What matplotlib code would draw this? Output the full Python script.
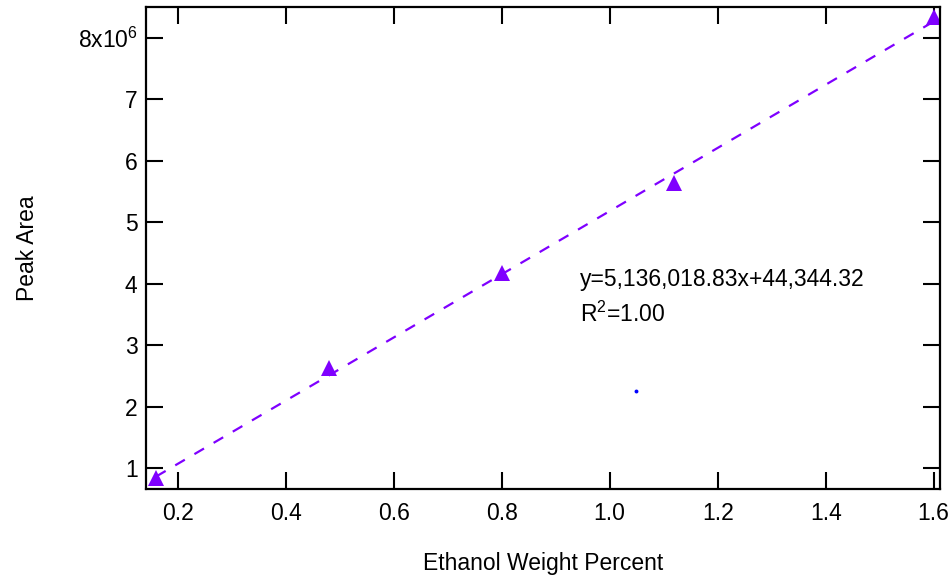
import numpy as np
import matplotlib
matplotlib.use('Agg')
import matplotlib.pyplot as plt
import matplotlib.ticker as ticker

plt.rcParams['font.family'] = ['Liberation Sans', 'DejaVu Sans']
plt.rcParams['mathtext.fontset'] = 'custom'
plt.rcParams['mathtext.rm'] = 'Liberation Sans'

# measured points
ethanol_wt = [0.16, 0.48, 0.80, 1.12, 1.60]
peak_area = [0.85e6, 2.63e6, 4.18e6, 5.64e6, 8.34e6]

# fit shown on chart
slope = 5136018.83
intercept = 44344.32
fit_text = 'y=5,136,018.83x+44,344.32'
r2_text = 'R$^{\\mathregular{2}}$=1.00'

# stray point
stray_x = [1.0487]
stray_y = [2.255e6]

x_ticks = [0.2, 0.4, 0.6, 0.8, 1.0, 1.2, 1.4, 1.6]
y_ticks = [1e6, 2e6, 3e6, 4e6, 5e6, 6e6, 7e6, 8e6]
y_labels = ['1', '2', '3', '4', '5', '6', '7', '8x10$^{\\mathregular{6}}$']

purple = '#7f00ff'
fs = 16.5

fig = plt.figure(figsize=(9.49, 5.77), dpi=100)
ax = fig.add_axes([0.1538, 0.152, 0.8367, 0.8364])

fit_x = np.array([ethanol_wt[0], ethanol_wt[-1]])
ax.plot(fit_x, slope * fit_x + intercept, color=purple, linestyle=(0, (5, 5)), linewidth=1.6)
ax.plot(ethanol_wt, peak_area, linestyle='none', marker='^', markersize=11.5,
        color=purple, markeredgewidth=0)
ax.plot(stray_x, stray_y, linestyle='none', marker='o', markersize=2.8,
        color='blue', markeredgewidth=0)

ax.text(0.945, 3.964e6, fit_text, fontsize=fs, va='baseline', ha='left')
ax.text(0.945, 3.38e6, r2_text, fontsize=fs, va='baseline', ha='left')

ax.set_xlim(0.1413, 1.6117)
ax.set_ylim(0.659e6, 8.503e6)
ax.xaxis.set_major_locator(ticker.FixedLocator(x_ticks))
ax.xaxis.set_major_formatter(ticker.FixedFormatter(['%.1f' % v for v in x_ticks]))
ax.yaxis.set_major_locator(ticker.FixedLocator(y_ticks))
ax.yaxis.set_major_formatter(ticker.FixedFormatter(y_labels))

ax.tick_params(axis='both', which='major', direction='in', length=12.5, width=1.5,
               top=True, right=True, labelsize=fs)
ax.tick_params(axis='x', pad=9)
ax.tick_params(axis='y', pad=6)
for sp in ax.spines.values():
    sp.set_linewidth(1.6)

ax.set_xlabel('Ethanol Weight Percent', fontsize=fs)
ax.set_ylabel('Peak Area', fontsize=fs)
ax.xaxis.set_label_coords(0.5, -0.13)
ax.yaxis.set_label_coords(-0.135, 0.5)

fig.savefig('out.png', dpi=100)
